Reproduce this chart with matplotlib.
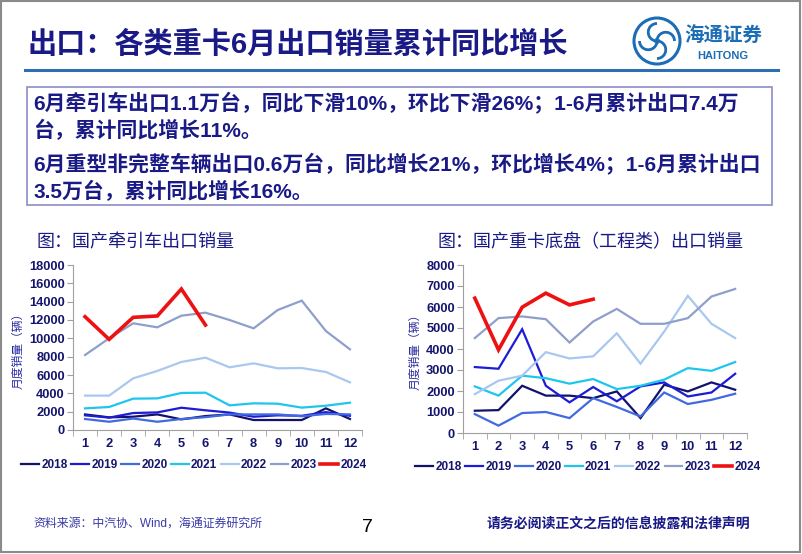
import numpy as np
import matplotlib.pyplot as plt
from matplotlib.patches import Rectangle, Circle, Arc

plt.rcParams['font.family'] = ['Liberation Sans', 'Noto Sans CJK SC', 'DejaVu Sans']

# data
months = list(range(1, 13))
years = ['2018', '2019', '2020', '2021', '2022', '2023', '2024']

# tractor exports (left)
tractor = {
    '2018': [1700, 1380, 1450, 1700, 1160, 1520, 1700, 1090, 1090, 1090, 2360, 1200],
    '2019': [1600, 1350, 1850, 1920, 2430, 2150, 1900, 1450, 1600, 1550, 1950, 1550],
    '2020': [1200, 900, 1250, 900, 1200, 1400, 1700, 1700, 1700, 1500, 1750, 1700],
    '2021': [2360, 2510, 3420, 3450, 4040, 4070, 2690, 2910, 2870, 2440, 2650, 2980],
    '2022': [3750, 3750, 5640, 6440, 7420, 7890, 6840, 7270, 6730, 6760, 6330, 5200],
    '2023': [8180, 10000, 11640, 11200, 12470, 12800, 12000, 11090, 13090, 14110, 10800, 8800],
    '2024': [12360, 9890, 12290, 12440, 15380, 11450],
}

# heavy truck chassis exports (right)
chassis = {
    '2018': [1060, 1090, 2250, 1780, 1780, 1660, 1980, 710, 2300, 1980, 2410, 2060],
    '2019': [3140, 3060, 4940, 2250, 1460, 2190, 1510, 2220, 2410, 1740, 1930, 2820],
    '2020': [900, 350, 950, 1000, 710, 1660, 1240, 790, 1930, 1380, 1580, 1870],
    '2021': [2220, 1780, 2730, 2610, 2350, 2570, 2090, 2250, 2540, 3090, 2960, 3380],
    '2022': [1850, 2490, 2730, 3850, 3550, 3650, 4750, 3300, 4830, 6530, 5200, 4520],
    '2023': [4520, 5470, 5550, 5420, 4310, 5310, 5910, 5200, 5200, 5470, 6500, 6860],
    '2024': [6420, 3960, 5990, 6660, 6100, 6370],
}

colors = {
    '2018': '#12126b', '2019': '#1c1cd6', '2020': '#4169e1', '2021': '#1ec6ee',
    '2022': '#a8c8f0', '2023': '#8f9fcb', '2024': '#ee1111',
}

navy = '#1a1a86'

fig = plt.figure(figsize=(8.02, 5.54), dpi=100)

# slide frame
fig.patches.append(Rectangle((0.001, 0.004), 0.997, 0.994, transform=fig.transFigure,
                             fill=False, ec='#8a8a8a', lw=1.5))

# title
fig.text(28 / 802, 1 - 45 / 554, '出口：各类重卡6月出口销量累计同比增长', fontsize=21,
         fontweight='bold', color=navy, va='center', ha='left')
fig.add_artist(plt.Line2D([25 / 802, 778 / 802], [1 - 70 / 554] * 2, color='#2e6fb3', lw=2.2))

# logo
lax = fig.add_axes([632 / 802, 1 - 66 / 554, 50 / 802, 50 / 554])
lax.set_xlim(-1, 1)
lax.set_ylim(-1, 1)
lax.set_aspect('equal')
lax.axis('off')
logo_c = '#1b6db5'
lax.add_patch(Circle((0, 0), 0.92, fill=False, ec=logo_c, lw=2.2))
for a in [0, 90, 180, 270]:
    lax.add_patch(Arc((0.35 * np.cos(np.radians(a)), 0.35 * np.sin(np.radians(a))), 0.7, 0.7,
                      theta1=a, theta2=a + 200, color=logo_c, lw=2))
fig.text(723 / 802, 1 - 36 / 554, '海通证券', fontsize=14, fontweight='bold', color=logo_c,
         ha='center', va='center', style='italic')
fig.text(723 / 802, 1 - 56 / 554, 'HAITONG', fontsize=8, fontweight='bold', color=logo_c,
         ha='center', va='center')

# text box
fig.patches.append(Rectangle((27 / 802, 1 - 205 / 554), 745 / 802, 118 / 554,
                             transform=fig.transFigure, fill=False, ec='#8c8cc8', lw=1.2))
lines = [
    (103, '6月牵引车出口1.1万台，同比下滑10%，环比下滑26%；1-6月累计出口7.4万'),
    (130, '台，累计同比增长11%。'),
    (164, '6月重型非完整车辆出口0.6万台，同比增长21%，环比增长4%；1-6月累计出口'),
    (191, '3.5万台，累计同比增长16%。'),
]
for y, s in lines:
    fig.text(33 / 802, 1 - y / 554, s, fontsize=15, fontweight='bold', color=navy,
             ha='left', va='center')

# subtitles
fig.text(37 / 802, 1 - 243 / 554, '图：国产牵引车出口销量', fontsize=13, color=navy,
         ha='left', va='center')
fig.text(438 / 802, 1 - 243 / 554, '图：国产重卡底盘（工程类）出口销量', fontsize=13, color=navy,
         ha='left', va='center')


def draw(ax, data, ymax, step):
    for yr in years:
        vals = data[yr]
        lw = 2.6 if yr == '2024' else 1.6
        ax.plot(months[:len(vals)], vals, color=colors[yr], lw=lw, label=yr,
                solid_joinstyle='miter')
    ax.set_xlim(0.5, 12.5)
    ax.set_ylim(0, ymax)
    ax.set_yticks(np.arange(0, ymax + 1, step))
    ax.set_xticks(months)
    ax.set_xticks(np.arange(0.5, 13, 1), minor=True)
    ax.tick_params(axis='x', which='major', length=0, pad=6)
    ax.tick_params(axis='x', which='minor', length=4, color='#a0a0a0', direction='out')
    ax.tick_params(axis='y', length=4, color='#a0a0a0', pad=2)
    for sp in ['top', 'right']:
        ax.spines[sp].set_visible(False)
    for sp in ['left', 'bottom']:
        ax.spines[sp].set_color('#a0a0a0')
    for lab in ax.get_xticklabels() + ax.get_yticklabels():
        lab.set_fontweight('bold')
        lab.set_fontsize(9.3)
        lab.set_color('#15156e')
    ax.set_ylabel('月度销量（辆）', fontsize=8.5, color='#2a2aa0', style='italic', labelpad=3)


ax1 = fig.add_axes([73 / 802, 1 - 430 / 554, 289 / 802, 165 / 554])
draw(ax1, tractor, 18000, 2000)
ax2 = fig.add_axes([463 / 802, 1 - 433 / 554, 284 / 802, 168 / 554])
draw(ax2, chassis, 8000, 1000)

for ax, cx, cy in [(ax1, 194, 465), (ax2, 588, 467)]:
    h, l = ax.get_legend_handles_labels()
    leg = fig.legend(h, l, loc='center', bbox_to_anchor=(cx / 802, 1 - cy / 554), ncol=7,
                     frameon=False, handlelength=1.5, handletextpad=0.2, columnspacing=0.3,
                     prop={'weight': 'bold', 'size': 8.5})
    for t in leg.get_texts():
        t.set_color('#15156e')

# footer
fig.text(33 / 802, 1 - 524 / 554, '资料来源：中汽协、Wind，海通证券研究所', fontsize=8.6,
         color='#3a3aa8', ha='left', va='center')
fig.text(367 / 802, 1 - 527 / 554, '7', fontsize=14, color='black', ha='center', va='center')
fig.text(750 / 802, 1 - 524 / 554, '请务必阅读正文之后的信息披露和法律声明', fontsize=10,
         fontweight='bold', color=navy, ha='right', va='center')

fig.savefig('out.png', dpi=100)
